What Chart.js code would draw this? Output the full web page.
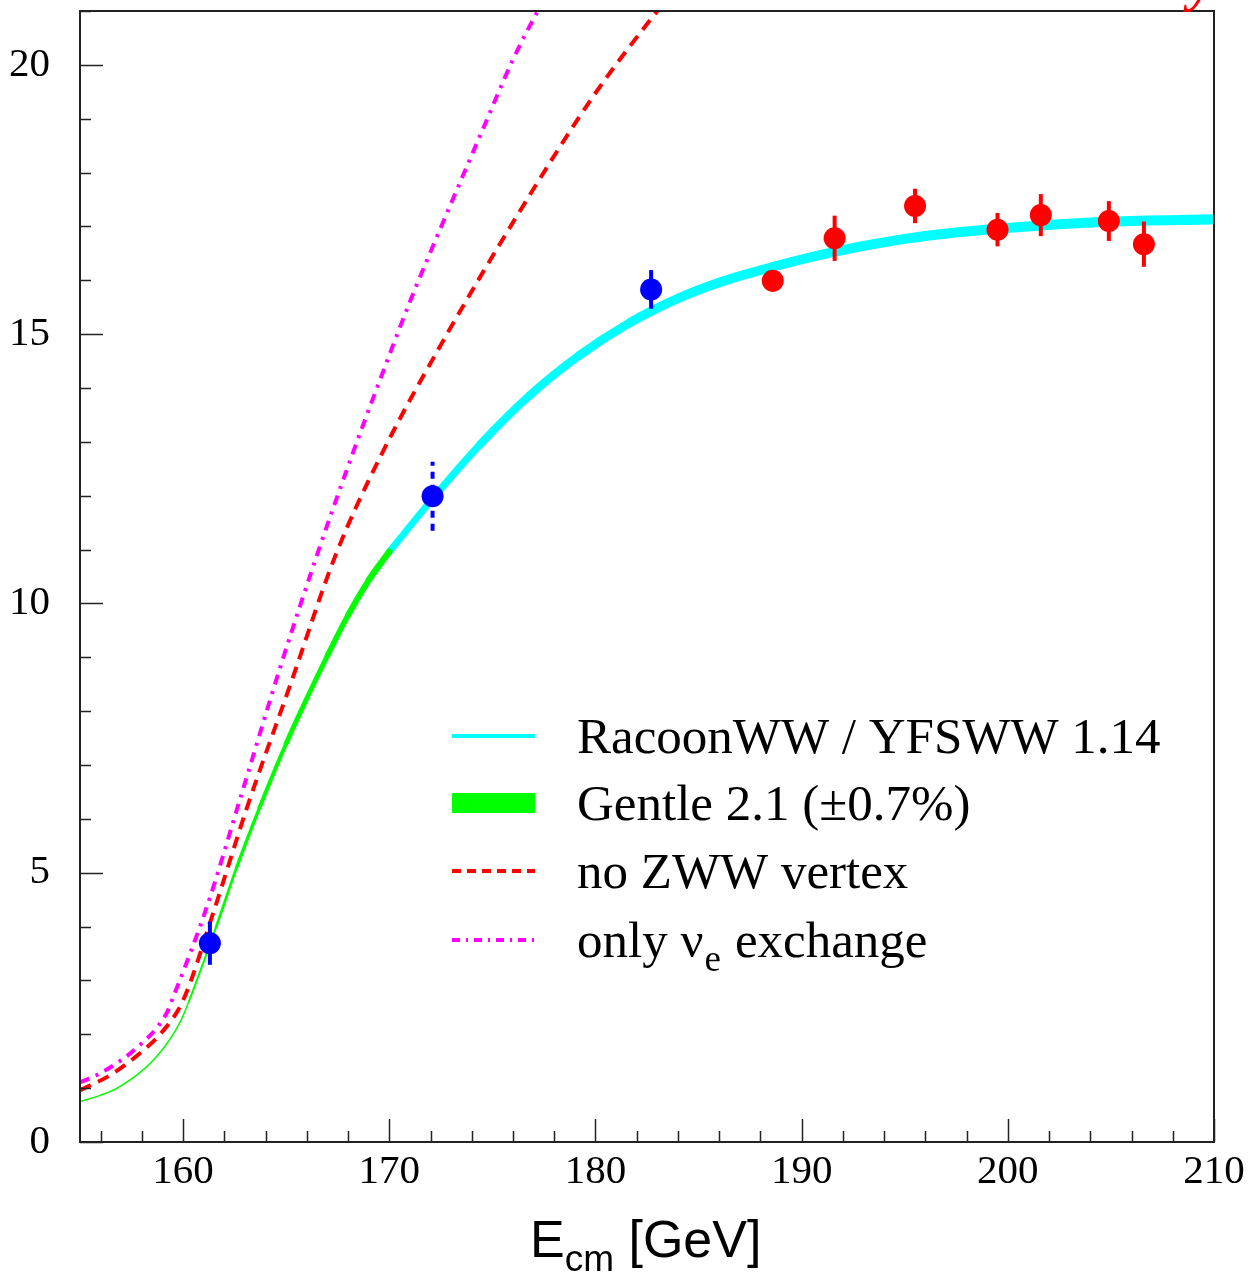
<!DOCTYPE html>
<html>
<head>
<meta charset="utf-8">
<title>WW cross section</title>
<script src="https://cdn.jsdelivr.net/npm/chart.js@4.4.0/dist/chart.umd.min.js"></script>
<style>
  body { margin: 0; background: #fff; }
  canvas { display: block; }
</style>
</head>
<body>
<canvas id="wwChart" width="1253" height="1278"></canvas>
<script>
// ---------- Measured cross sections (pb) ----------
const lowEnergy = [161.3, 172.1, 182.7];
const lowSigma = [3.69, 11.99, 15.83];
const lowError = [0.40, 0.64, 0.36];

const highEnergy = [188.6, 191.6, 195.5, 199.5, 201.6, 204.9, 206.6];
const highSigma = [15.99, 16.78, 17.38, 16.94, 17.21, 17.10, 16.67];
const highError = [0.20, 0.42, 0.32, 0.31, 0.39, 0.37, 0.42];

// ---------- Predictions ----------
const gentleEnergy = [155.0, 156.0, 156.8, 158.7, 159.9, 160.3, 161.6, 162.6, 163.7, 165.0, 167.0, 168.0, 169.0, 170.0];
const gentleSigma = [0.75, 0.87, 1.00, 1.58, 2.26, 2.63, 3.99, 5.10, 6.20, 7.40, 9.03, 9.78, 10.43, 10.96];

const racoonEnergy = [170.0, 172.2, 174.4, 176.8, 179.2, 181.7, 184.1, 186.0, 188.6, 191.6, 195.6, 199.6, 205.0, 210.0];
const racoonSigma = [10.96, 11.99, 12.95, 13.86, 14.60, 15.22, 15.68, 15.96, 16.25, 16.53, 16.80, 16.96, 17.09, 17.13];

const noZwwEnergy = [155.0, 156.5, 158.0, 159.0, 160.0, 161.5, 163.1, 165.2, 167.4, 169.6, 172.8, 176.2, 179.9, 183.0, 184.5];
const noZwwSigma = [0.96, 1.25, 1.68, 2.05, 2.63, 4.30, 6.21, 8.49, 10.90, 12.75, 15.00, 17.20, 19.42, 21.00, 21.70];

const nueEnergy = [155.0, 155.8, 157.6, 159.2, 159.5, 161.2, 162.75, 164.7, 166.55, 168.25, 169.5, 171.0, 172.6, 174.4, 176.0, 177.2, 178.2];
const nueSigma = [1.11, 1.24, 1.70, 2.39, 2.67, 4.42, 6.35, 8.80, 10.96, 12.81, 14.10, 15.60, 17.07, 18.68, 20.10, 21.00, 21.70];

const xTicks = [160, 170, 180, 190, 200, 210];
const yTicks = [0, 5, 10, 15, 20];

const legendLabels = ['RacoonWW / YFSWW 1.14', 'Gentle 2.1 (\u00b10.7%)', 'no ZWW vertex', 'only \u03bd'];

function toPoints(xs, ys) {
    return xs.map((x, i) => ({ x: x, y: ys[i] }));
}

// band width in pixels for a relative uncertainty around the curve value
function bandWidth(ctx, values, rel, minWidth) {
    const y = ctx.chart.scales.y;
    const v = (values[ctx.p0DataIndex] + values[ctx.p1DataIndex]) / 2;
    const w = Math.abs(y.getPixelForValue(v * (1 - rel)) - y.getPixelForValue(v * (1 + rel)));
    return Math.max(minWidth, w);
}

// ---------- Error bars under the data points ----------
const errorBars = {
    id: 'errorBars',
    beforeDatasetDraw(chart, args) {
        const ds = chart.data.datasets[args.index];
        if (!ds.errors) return;
        const { ctx, scales: { x, y } } = chart;
        ctx.save();
        ctx.strokeStyle = ds.backgroundColor;
        ctx.lineWidth = 4;
        ds.data.forEach((p, i) => {
            ctx.setLineDash(ds.dashedErrors && ds.dashedErrors[i] ? [7, 6] : []);
            const px = x.getPixelForValue(p.x);
            ctx.beginPath();
            ctx.moveTo(px, y.getPixelForValue(p.y - ds.errors[i]));
            ctx.lineTo(px, y.getPixelForValue(p.y + ds.errors[i]));
            ctx.stroke();
        });
        ctx.restore();
    }
};

// ---------- Frame, inward ticks, legend and axis title ----------
const decorations = {
    id: 'decorations',
    afterDraw(chart) {
        const { ctx, chartArea: a, scales: { x, y } } = chart;
        ctx.save();

        // frame
        ctx.strokeStyle = '#222';
        ctx.lineWidth = 2;
        ctx.strokeRect(a.left, a.top, a.right - a.left, a.bottom - a.top);

        // ticks
        ctx.lineWidth = 1.5;
        ctx.beginPath();
        for (let v = y.min; v <= y.max; v += 1) {
            const py = Math.round(y.getPixelForValue(v)) + 0.5;
            ctx.moveTo(a.left, py);
            ctx.lineTo(a.left + (v % 5 === 0 ? 23 : 11), py);
        }
        for (let v = 156; v <= x.max; v += 2) {
            const px = Math.round(x.getPixelForValue(v)) + 0.5;
            ctx.moveTo(px, a.bottom);
            ctx.lineTo(px, a.bottom - (v % 10 === 0 ? 23 : 11));
        }
        ctx.stroke();

        // legend
        const lx0 = 452, lx1 = 535, tx = 577;
        const rows = [736, 803, 871, 940];
        ctx.lineCap = 'butt';

        ctx.strokeStyle = '#00ffff';
        ctx.lineWidth = 4;
        ctx.beginPath(); ctx.moveTo(lx0, rows[0]); ctx.lineTo(lx1, rows[0]); ctx.stroke();

        ctx.fillStyle = '#00ff00';
        ctx.fillRect(lx0, rows[1] - 10, lx1 - lx0, 20);

        ctx.strokeStyle = '#ff0000';
        ctx.setLineDash([9, 6]);
        ctx.beginPath(); ctx.moveTo(lx0, rows[2]); ctx.lineTo(lx1, rows[2]); ctx.stroke();

        ctx.strokeStyle = '#ff00ff';
        ctx.setLineDash([8, 6, 2, 6]);
        ctx.beginPath(); ctx.moveTo(lx0, rows[3]); ctx.lineTo(lx1, rows[3]); ctx.stroke();
        ctx.setLineDash([]);

        ctx.fillStyle = '#000';
        ctx.textAlign = 'left';
        ctx.textBaseline = 'alphabetic';
        ctx.font = '51px "Liberation Serif"';
        for (let i = 0; i < 4; i++) {
            ctx.fillText(legendLabels[i], tx, rows[i] + 17);
        }
        let w = ctx.measureText(legendLabels[3]).width;
        ctx.font = '37px "Liberation Serif"';
        ctx.fillText('e', tx + w + 1, rows[3] + 31);
        w += ctx.measureText('e').width + 15;
        ctx.font = '51px "Liberation Serif"';
        ctx.fillText('exchange', tx + w, rows[3] + 17);

        // x axis title
        ctx.font = '52px "Liberation Sans"';
        let ax = 530;
        ctx.fillText('E', ax, 1257);
        ax += ctx.measureText('E').width;
        ctx.font = '37px "Liberation Sans"';
        ctx.fillText('cm', ax, 1271);
        ax += ctx.measureText('cm').width;
        ctx.font = '52px "Liberation Sans"';
        ctx.fillText(' [GeV]', ax, 1257);

        // tail of the red label above the frame
        ctx.fillStyle = '#ff0000';
        ctx.font = 'bold italic 56px "Liberation Serif"';
        ctx.fillText('y', 1189, 0);

        ctx.restore();
    }
};

const wwChart = document.getElementById('wwChart');

new Chart(wwChart, {
    type: 'scatter',
    data: {
        datasets: [{
            label: 'LEP 161-183 GeV',
            data: toPoints(lowEnergy, lowSigma),
            errors: lowError,
            dashedErrors: [false, true, false],
            backgroundColor: '#0000ff',
            borderColor: '#0000ff',
            pointRadius: 11,
            pointHoverRadius: 11,
            borderWidth: 0
        }, {
            label: 'LEP 189-207 GeV',
            data: toPoints(highEnergy, highSigma),
            errors: highError,
            backgroundColor: '#ff0000',
            borderColor: '#ff0000',
            pointRadius: 11,
            pointHoverRadius: 11,
            borderWidth: 0
        }, {
            label: 'no ZWW vertex',
            data: toPoints(noZwwEnergy, noZwwSigma),
            showLine: true,
            borderColor: '#ff0000',
            borderWidth: 4,
            borderDash: [12, 8],
            pointRadius: 0,
            cubicInterpolationMode: 'monotone'
        }, {
            label: 'only nu_e exchange',
            data: toPoints(nueEnergy, nueSigma),
            showLine: true,
            borderColor: '#ff00ff',
            borderWidth: 4,
            borderDash: [10, 7, 3, 7],
            pointRadius: 0,
            cubicInterpolationMode: 'monotone'
        }, {
            label: 'Gentle 2.1',
            data: toPoints(gentleEnergy, gentleSigma),
            showLine: true,
            borderColor: '#00ff00',
            borderCapStyle: 'round',
            pointRadius: 0,
            cubicInterpolationMode: 'monotone',
            segment: {
                borderWidth: ctx => bandWidth(ctx, gentleSigma, 0.0055, 1.5)
            }
        }, {
            label: 'RacoonWW / YFSWW 1.14',
            data: toPoints(racoonEnergy, racoonSigma),
            showLine: true,
            borderColor: '#00ffff',
            borderCapStyle: 'round',
            pointRadius: 0,
            cubicInterpolationMode: 'monotone',
            segment: {
                borderWidth: ctx => bandWidth(ctx, racoonSigma, 0.0055, 5)
            }
        }]
    },
    options: {
        responsive: false,
        animation: false,
        events: [],
        layout: {
            padding: { top: 8, right: 39, left: 0, bottom: 0 }
        },
        plugins: {
            legend: { display: false },
            tooltip: { enabled: false }
        },
        scales: {
            x: {
                type: 'linear',
                min: 155,
                max: 210,
                grid: { display: false, drawTicks: false },
                border: { display: false },
                afterBuildTicks(s) {
                    s.ticks = xTicks.map(v => ({ value: v }));
                },
                ticks: {
                    autoSkip: false,
                    maxRotation: 0,
                    padding: 6,
                    color: '#000',
                    font: { family: 'Liberation Serif', size: 41 }
                },
                afterFit(s) {
                    s.height = 136;
                    s.paddingLeft = 0;
                    s.paddingRight = 0;
                }
            },
            y: {
                min: 0,
                max: 21,
                grid: { display: false, drawTicks: false },
                border: { display: false },
                afterBuildTicks(s) {
                    s.ticks = yTicks.map(v => ({ value: v }));
                },
                ticks: {
                    autoSkip: false,
                    padding: 30,
                    color: '#000',
                    font: { family: 'Liberation Serif', size: 41 }
                },
                afterFit(s) {
                    s.width = 80;
                    s.paddingTop = 0;
                    s.paddingBottom = 0;
                }
            }
        }
    },
    plugins: [errorBars, decorations]
});
</script>
</body>
</html>
